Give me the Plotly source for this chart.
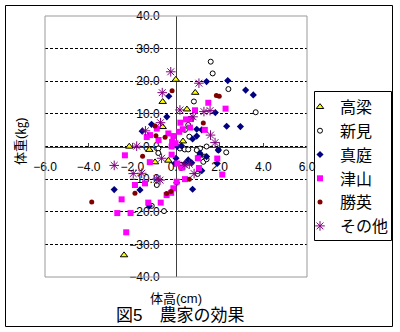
import plotly.graph_objects as go

# ---- data ----
series_names = ["高梁", "新見", "真庭", "津山", "勝英", "その他"]

takahashi_x = [-0.01, 0.88, -0.61, 0.50, -0.61, 0.32, -2.14, -1.22, -0.96, -0.35, -2.38]
takahashi_y = [20.5, 16.5, 13.7, 11.4, 6.0, 1.6, 0.0, -1.0, -4.8, -4.3, -33.3]

niimi_x = [1.59, 1.68, 2.40, 0.82, 0.72, 3.65, 0.56, 0.41, 0.61, 0.18, 0.40, 0.56, 1.10, 1.40,
           0.95, 1.10, 1.33, 1.94, 2.30, 1.25, 1.40, 0.99, -0.81, -0.81, -0.88, -1.11, -0.55]
niimi_y = [26.0, 22.4, 17.6, 13.8, 8.6, 10.5, 6.6, 5.1, 3.0, -0.6, -0.9, -0.9, -0.6, 0.0,
           -1.1, -2.6, -3.1, -1.1, -1.8, -4.7, -3.9, -8.4, -0.6, -2.0, -11.8, -18.2, -19.8]

maniwa_x = [1.40, 2.37, 3.19, 3.54, -0.33, 1.80, -0.42, 2.32, 2.95, -1.12, -1.55, 0.95, 1.18,
            0.76, 0.95, 0.06, 0.25, 0.00, 0.56, 0.72, 0.41, 1.10, 1.40, 1.89, 1.18, 0.03, 0.76,
            -2.83, -1.65, -1.22, -0.05, 1.94, 1.07]
maniwa_y = [19.9, 20.2, 17.3, 15.8, 15.4, 10.4, 9.1, 6.2, 6.1, 6.8, 4.7, 5.3, 5.1,
            2.3, 3.2, 0.0, 0.2, -3.6, -4.1, -5.0, -5.2, -2.1, -3.1, -5.2, -7.4, -11.1, -13.1,
            -13.2, -13.3, -18.2, -5.2, -1.1, -2.8]

tsuyama_x = [1.48, 2.27, 0.87, 0.20, 0.68, 0.46, -0.88, -1.34, -1.19, -0.80, 0.15, -0.12, 0.64,
             1.32, -0.20, -0.18, -0.02, 0.31, -0.35, -0.20, -2.34, -1.20, 0.06, 0.26, 1.05, 1.00,
             1.89, 2.12, 0.41, 0.03, -0.12, -0.22, -0.43, -0.70, -1.27, -1.88, -1.42, -2.49,
             -2.69, -2.08, -2.28]
tsuyama_y = [13.4, 11.6, 11.1, 7.3, 8.4, 8.3, 5.5, 2.9, 3.5, 2.0, 4.5, 3.2, 5.8,
             5.1, 0.0, 1.4, 1.0, 5.3, 4.0, -2.5, -2.7, -4.8, -5.2, -6.5, -6.6, -3.6,
             -3.7, -8.6, -10.0, -10.8, -12.8, -14.2, -14.9, -17.2, -17.2, -11.8, -11.3, -16.2,
             -20.4, -20.4, -26.3]

shoei_x = [1.85, 1.98, -0.18, 1.25, -0.96, -0.92, -0.50, -1.53, 0.61, -0.23, -0.43, -1.88, -3.86]
shoei_y = [15.6, 15.4, 17.1, 7.2, 6.3, 3.3, 2.8, -3.0, -10.0, -13.8, -14.4, -14.3, -17.0]

other_x = [-0.24, 1.05, -0.63, 0.18, 1.28, 1.56, 0.78, -0.71, -1.40, 1.58, 1.79, -1.80, -0.66,
           0.61, 0.41, 0.83, -2.83, -1.96, -1.57, -0.88, -0.73]
other_y = [22.9, 19.4, 16.5, 11.2, 10.7, 11.0, 9.1, 7.3, 4.8, 3.5, 1.2, 0.1, -3.6,
           -5.4, -5.7, -8.3, -5.8, -8.3, -8.2, -10.0, -10.3]

x_ticks = [-6, -4, -2, 0, 2, 4, 6]
y_ticks = [-40, -30, -20, -10, 0, 10, 20, 30, 40]

FONT = "Liberation Sans, Noto Sans CJK JP, sans-serif"

styles = [
    dict(symbol="triangle-up", size=6.5, color="#FFFF00", line=dict(color="black", width=1)),
    dict(symbol="circle", size=5, color="white", line=dict(color="black", width=1)),
    dict(symbol="diamond", size=5.5, color="#000080", line=dict(color="#000080", width=0)),
    dict(symbol="square", size=6, color="#FF00FF", line=dict(color="#FF00FF", width=0)),
    dict(symbol="circle", size=5, color="#800000", line=dict(color="#800000", width=0)),
    dict(symbol="asterisk-open", size=8, color="#800080", line=dict(color="#800080", width=1)),
]
data = [(takahashi_x, takahashi_y), (niimi_x, niimi_y), (maniwa_x, maniwa_y),
        (tsuyama_x, tsuyama_y), (shoei_x, shoei_y), (other_x, other_y)]

fig = go.Figure()
for name, (xs, ys), st in zip(series_names, data, styles):
    fig.add_trace(go.Scatter(x=xs, y=ys, mode="markers", name=name, marker=st,
                             legendgroup=name))

W, H = 400, 332
L, R, T, B = 45, 93, 16, 55
pw, ph = W - L - R, H - T - B

def px(xp):
    return (xp - L) / pw

def py(yp):
    return (H - B - yp) / ph

fig.update_layout(
    width=W, height=H,
    margin=dict(l=L, r=R, t=T, b=B, autoexpand=False),
    paper_bgcolor="white", plot_bgcolor="white",
    font=dict(family=FONT, size=12, color="black"),
    showlegend=True,
    legend=dict(x=px(300), y=py(90), xanchor="left", yanchor="top",
                bgcolor="rgba(0,0,0,0)", borderwidth=0,
                font=dict(family=FONT, size=16, color="black"),
                tracegroupgap=0, itemwidth=30),
    xaxis=dict(range=[-6, 6], domain=[0, 1], anchor="free", position=0.5,
               tickvals=x_ticks, tickformat=".1f", ticks="inside", ticklen=4,
               tickcolor="#404040", showline=True, linecolor="#404040", linewidth=1,
               showgrid=False, zeroline=False, ticklabelstandoff=9,
               layer="below traces", tickfont=dict(size=12)),
    yaxis=dict(range=[-40, 40], domain=[0, 1], anchor="free", position=0.5,
               tickvals=y_ticks, tickformat=".1f", ticks="inside", ticklen=4,
               tickcolor="#404040", showline=True, linecolor="#404040", linewidth=1,
               showgrid=True, gridcolor="black", gridwidth=1, griddash="3px,2px",
               zeroline=False, ticklabelstandoff=14,
               layer="below traces", tickfont=dict(size=12)),
    shapes=[
        dict(type="rect", xref="paper", yref="paper", x0=0, x1=1, y0=0, y1=1,
             line=dict(color="#999999", width=1), layer="above"),
        dict(type="rect", xref="paper", yref="paper", x0=px(5.5), x1=px(392.5),
             y0=py(326.5), y1=py(5.5), line=dict(color="black", width=1)),
        dict(type="rect", xref="paper", yref="paper", x0=px(314.5), x1=px(391.5),
             y0=py(240.5), y1=py(91.5), line=dict(color="black", width=1),
             fillcolor="white", layer="below"),
    ],
    annotations=[
        dict(text="体重(㎏)", xref="paper", yref="paper", x=px(21), y=py(141),
             xanchor="center", yanchor="middle",
             showarrow=False, textangle=-90, font=dict(family=FONT, size=13)),
        dict(text="体高(cm)", xref="paper", yref="paper", x=px(176), y=py(298),
             xanchor="center", yanchor="middle",
             showarrow=False, font=dict(family=FONT, size=13)),
        dict(text="図5　農家の効果", xref="paper", yref="paper", x=px(180), y=py(315),
             xanchor="center", yanchor="middle",
             showarrow=False, font=dict(family=FONT, size=17)),
    ],
)

fig.write_html("out.html")
